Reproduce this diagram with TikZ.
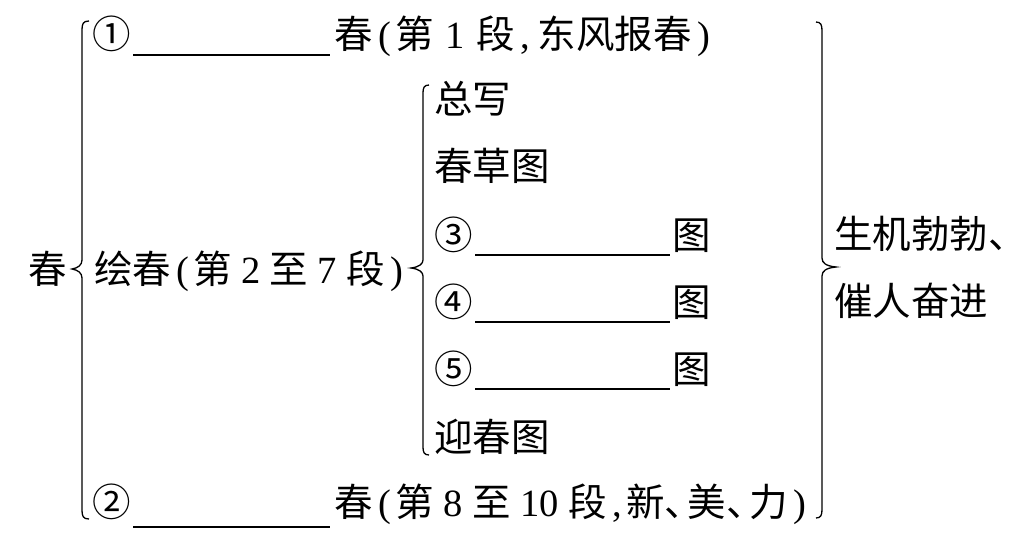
\documentclass[tikz,border=0pt]{standalone}
\usepackage{fontspec}
\newfontfamily\cjk{Noto Sans CJK SC}
\newfontfamily\lat{Liberation Serif}
\newcommand{\gp}[2][0.3em]{\hspace{#1}{\lat #2}\hspace{#1}}
\newcommand{\pl}{{\lat\hspace{0.15em}(\hspace{0.1em}}}
\newcommand{\pr}{{\lat\hspace{0.15em})}}
\newcommand{\cm}[1][0.3em]{\hspace{0.15em}{\lat,}\hspace{#1}}
\newcommand{\dn}{\makebox[0.6em][l]{、}}
\begin{document}
\begin{tikzpicture}[x=1pt,y=-1pt,
  txt/.style={anchor=base west,inner sep=0pt,font=\cjk\fontsize{38.5}{40}\selectfont},
  brc/.style={line width=1.3pt},
  ul/.style={line width=1.4pt}]
\useasboundingbox (0,0) rectangle (1035,544);
% left
\node[txt] (root) at (28,283) {春};
\node[txt] (c1) at (92,48) {①};
\node[txt] (r1) at (334,48) {春\pl 第\gp{1}段\cm[0.2em]东风报春\pr};
\node[txt] (r2) at (94,283) {绘春\pl 第\gp[0.24em]{2}至\gp[0.24em]{7}段\pr};
\node[txt] (c2) at (92,516) {②};
\node[txt] (r3) at (334,516) {春\pl 第\gp[0.25em]{8}至\gp[0.25em]{10}段\cm[0.1em]新\dn 美\dn 力\pr};
% sub items
\node[txt] (s1) at (434,113) {总写};
\node[txt] (s2) at (434,180) {春草图};
\node[txt] (c3) at (434,249) {③};
\node[txt] (t3) at (672,249) {图};
\node[txt] (c4) at (434,316) {④};
\node[txt] (t4) at (672,316) {图};
\node[txt] (c5) at (434,383) {⑤};
\node[txt] (t5) at (672,383) {图};
\node[txt] (s6) at (434,451) {迎春图};
% right
\node[txt] (e1) at (834,248) {生机勃勃、};
\node[txt] (e2) at (834,315) {催人奋进};
% underlines
\draw[ul] (133,55) -- (330,55);
\draw[ul] (133,527) -- (330,527);
\draw[ul] (475,255) -- (670,255);
\draw[ul] (475,322) -- (670,322);
\draw[ul] (475,389) -- (670,389);
% left brace
\draw[brc] (89,21) .. controls (83,21) and (82,24) .. (82,30) -- (82,260)
  .. controls (82,265) and (78,268) .. (72,269) .. controls (78,270) and (82,273) .. (82,278)
  -- (82,510) .. controls (82,516) and (83,519) .. (89,519);
% middle brace
\draw[brc] (429,85) .. controls (424,85) and (423,88) .. (423,93) -- (423,260)
  .. controls (423,264) and (419,267) .. (411,268) .. controls (419,269) and (423,272) .. (423,276)
  -- (423,447) .. controls (423,452) and (424,455) .. (429,455);
% right brace
\draw[brc] (816,22) .. controls (821,22) and (822,25) .. (822,31) -- (822,258)
  .. controls (822,263) and (826,266) .. (836,267) .. controls (826,268) and (822,271) .. (822,276)
  -- (822,509) .. controls (822,515) and (821,518) .. (816,518);
\end{tikzpicture}
\end{document}
